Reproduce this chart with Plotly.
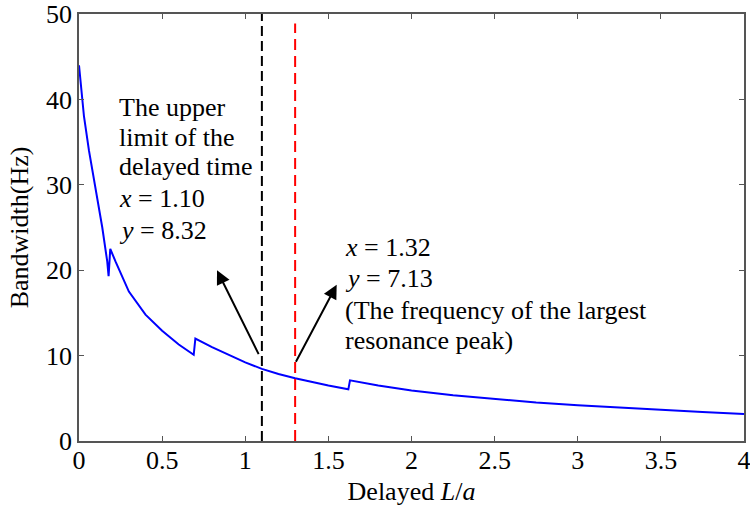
import plotly.graph_objects as go

# Curve data (Delayed L/a vs Bandwidth)
delay = [0.0, 0.01, 0.03, 0.06, 0.10, 0.14, 0.17, 0.178,
         0.188, 0.22, 0.30, 0.40, 0.50, 0.60, 0.69,
         0.70, 0.80, 0.90, 1.00, 1.10, 1.20, 1.30, 1.40, 1.50, 1.62,
         1.63, 1.80, 2.00, 2.25, 2.50, 2.75, 3.00, 3.25, 3.50, 3.75, 4.00]
bandwidth = [44.0, 41.8, 38.0, 34.0, 29.5, 25.0, 21.0, 19.3,
             22.5, 21.0, 17.5, 14.8, 12.9, 11.3, 10.1,
             12.0, 11.0, 10.1, 9.2, 8.45, 7.85, 7.35, 6.9, 6.5, 6.05,
             7.1, 6.5, 5.9, 5.35, 4.9, 4.5, 4.2, 3.9, 3.65, 3.4, 3.15]

x_upper = 1.10
x_peak = 1.30
x_ticks = [0, 0.5, 1, 1.5, 2, 2.5, 3, 3.5, 4]
x_ticklabels = ["0", "0.5", "1", "1.5", "2", "2.5", "3", "3.5", "4"]
y_ticks = [0, 10, 20, 30, 40, 50]

left_lines = ["The upper", "limit of the", "delayed time", "<i>x</i> = 1.10", "<i>y</i> = 8.32"]
right_lines = ["<i>x</i> = 1.32", "<i>y</i> = 7.13", "(The frequency of the largest", "resonance peak)"]

FONT = "Liberation Serif"
FS = 26

fig = go.Figure()
fig.add_trace(go.Scatter(x=delay, y=bandwidth, mode="lines",
                         line=dict(color="#0000ff", width=2), showlegend=False))
fig.add_trace(go.Scatter(x=[x_upper, x_upper], y=[0, 50], mode="lines",
                         line=dict(color="black", width=2, dash="10px,5px"), showlegend=False))
fig.add_trace(go.Scatter(x=[x_peak, x_peak], y=[0, 48.9], mode="lines",
                         line=dict(color="#ff0000", width=2, dash="11px,6px"), showlegend=False))

# arrows
fig.add_annotation(x=0.83, y=20.0, ax=1.085, ay=10.0, xref="x", yref="y",
                   axref="x", ayref="y", showarrow=True, arrowhead=2,
                   arrowsize=1.4, arrowwidth=2, arrowcolor="black", text="")
fig.add_annotation(x=1.55, y=18.3, ax=1.30, ay=9.1, xref="x", yref="y",
                   axref="x", ayref="y", showarrow=True, arrowhead=2,
                   arrowsize=1.4, arrowwidth=2, arrowcolor="black", text="")

# text blocks, one annotation per line (pixel rows of the plot area)
plot_top, plot_h = 14, 427
def py_to_paper(py):
    return 1 - (py - plot_top) / plot_h

left_rows = [107, 137, 167, 198, 230]
right_rows = [247, 278, 310, 340]
for txt, row in zip(left_lines, left_rows):
    fig.add_annotation(x=0.229, y=py_to_paper(row), xref="x", yref="paper",
                       xanchor="left", yanchor="middle", showarrow=False, text=txt,
                       font=dict(family=FONT, size=FS, color="black"))
for txt, row in zip(right_lines, right_rows):
    fig.add_annotation(x=1.588, y=py_to_paper(row), xref="x", yref="paper",
                       xanchor="left", yanchor="middle", showarrow=False, text=txt,
                       font=dict(family=FONT, size=FS, color="black"))

axis_common = dict(showline=True, linecolor="#555555", linewidth=1.5, mirror="ticks",
                   ticks="inside", ticklen=5, tickcolor="#555555", showgrid=False,
                   zeroline=False, ticklabeloverflow="allow",
                   tickfont=dict(family=FONT, size=FS, color="black"))

fig.update_xaxes(range=[0, 4], tickvals=x_ticks, ticktext=x_ticklabels, ticklabelstandoff=-5,
                 title=dict(text="Delayed <i>L</i>/<i>a</i>", font=dict(family=FONT, size=FS, color="black"), standoff=8),
                 **axis_common)
fig.update_yaxes(range=[0, 50], tickvals=y_ticks,
                 title=dict(text="Bandwidth(Hz)", font=dict(family=FONT, size=FS, color="black"), standoff=10),
                 **axis_common)

fig.update_layout(width=750, height=506, margin=dict(l=79, r=6, t=14, b=65, autoexpand=False),
                  plot_bgcolor="white", paper_bgcolor="white",
                  font=dict(family=FONT))
fig.write_html("out.html")
